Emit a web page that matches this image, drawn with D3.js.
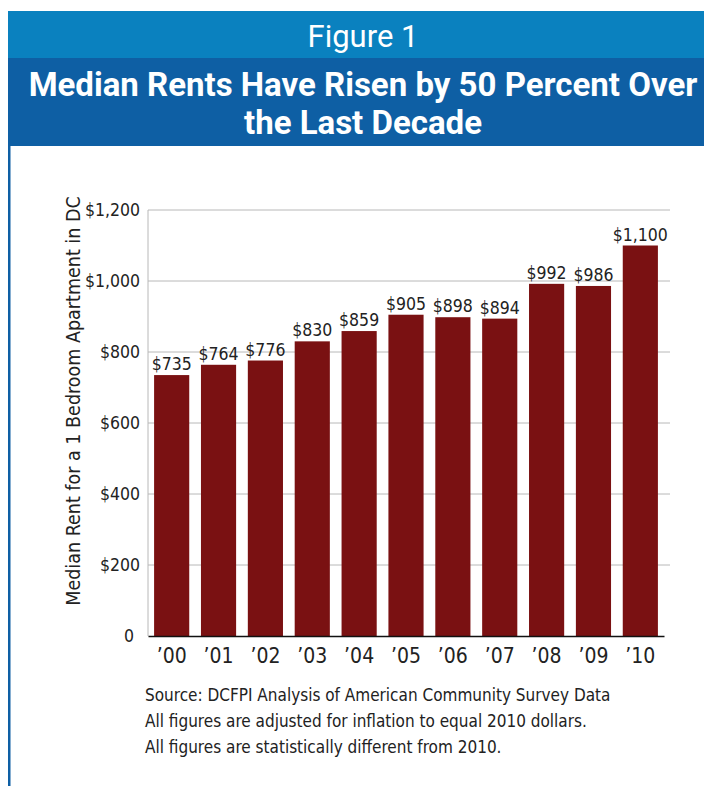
<!DOCTYPE html>
<meta charset="utf-8">
<style>
body { margin: 0; background: #fff; }
svg { display: block; }
.narrow { font-family: "DejaVu Sans Condensed", "Liberation Sans Narrow", sans-serif; }
</style>
<body>
<div id="chart"></div>
<script src="https://cdn.jsdelivr.net/npm/d3@7"></script>
<script>
// data
var years = ["\u201900", "\u201901", "\u201902", "\u201903", "\u201904", "\u201905", "\u201906", "\u201907", "\u201908", "\u201909", "\u201910"];
var rents = [735, 764, 776, 830, 859, 905, 898, 894, 992, 986, 1100];
var yTicks = [0, 200, 400, 600, 800, 1000, 1200];
var notes = [
    "Source: DCFPI Analysis of American Community Survey Data",
    "All figures are adjusted for inflation to equal 2010 dollars.",
    "All figures are statistically different from 2010."
];

var W = 704, H = 786;
var svg = d3.select("#chart").append("svg").attr("width", W).attr("height", H);

// header bands
svg.append("rect").attr("x", 8).attr("y", 11).attr("width", W - 8).attr("height", 47).attr("fill", "#0a81bf");
svg.append("rect").attr("x", 8).attr("y", 58).attr("width", W - 8).attr("height", 88).attr("fill", "#0e5fa4");
svg.append("rect").attr("x", 8).attr("y", 146).attr("width", 2.5).attr("height", H - 146).attr("fill", "#0e5fa4");

svg.append("text").attr("x", 363).attr("y", 47).attr("text-anchor", "middle")
    .attr("fill", "#fff").style("font-family", "Roboto, sans-serif").style("font-size", "31px")
    .text("Figure 1");
svg.append("text").attr("x", 363).attr("y", 96).attr("text-anchor", "middle")
    .attr("fill", "#fff").style("font-family", "Roboto, sans-serif").style("font-size", "33px").style("font-weight", "bold")
    .text("Median Rents Have Risen by 50 Percent Over");
svg.append("text").attr("x", 363).attr("y", 134).attr("text-anchor", "middle")
    .attr("fill", "#fff").style("font-family", "Roboto, sans-serif").style("font-size", "33px").style("font-weight", "bold")
    .text("the Last Decade");

// chart
var pLeft = 148, pRight = 664, pTop = 210, pBottom = 636;
var x = d3.scaleBand().domain(years).range([pLeft, pRight]).paddingInner(0.25).paddingOuter(0.13);
var y = d3.scaleLinear().domain([0, 1200]).range([pBottom, pTop]);

var g = svg.append("g").attr("class", "narrow");

g.selectAll(".grid").data(yTicks.slice(1)).enter().append("line")
    .attr("x1", pLeft).attr("x2", 670)
    .attr("y1", function(d) { return y(d); }).attr("y2", function(d) { return y(d); })
    .attr("stroke", "#b8b8b8").attr("stroke-width", 1);

g.append("line").attr("x1", pLeft).attr("x2", pLeft).attr("y1", pTop).attr("y2", pBottom)
    .attr("stroke", "#b8b8b8");

g.selectAll(".bar").data(rents).enter().append("rect")
    .attr("x", function(d, i) { return x(years[i]); })
    .attr("y", function(d) { return y(d); })
    .attr("width", x.bandwidth())
    .attr("height", function(d) { return pBottom - y(d); })
    .attr("fill", "#7a1112");

g.selectAll(".val").data(rents).enter().append("text")
    .attr("x", function(d, i) { return x(years[i]) + x.bandwidth() / 2; })
    .attr("y", function(d) { return y(d) - 5; })
    .attr("text-anchor", "middle").attr("fill", "#222")
    .style("font-size", "17.5px")
    .text(function(d) { return "$" + d3.format(",")(d); });

var yAxis = d3.axisLeft(y).tickValues(yTicks).tickSize(0).tickPadding(8)
    .tickFormat(function(d) { return d === 0 ? "0" : "$" + d3.format(",")(d); });
var ya = g.append("g").attr("transform", "translate(" + pLeft + ",0)").call(yAxis);
ya.select(".domain").remove();
ya.selectAll("text").style("font-size", "17.5px").attr("fill", "#222")
    .style("font-family", "'DejaVu Sans Condensed', sans-serif");
ya.selectAll(".tick").filter(function(d) { return d === 0; }).select("text").attr("dx", -6);

var xAxis = d3.axisBottom(x).tickSize(0).tickPadding(12);
var xa = g.append("g").attr("transform", "translate(0," + pBottom + ")").call(xAxis);
xa.select(".domain").attr("stroke", "#111").attr("stroke-width", 1.5);
xa.selectAll("text").style("font-size", "21px").attr("fill", "#222")
    .style("font-family", "'DejaVu Sans Condensed', sans-serif");

g.append("text")
    .attr("transform", "translate(80," + ((pTop + pBottom) / 2 - 22) + ") rotate(-90)")
    .attr("text-anchor", "middle").attr("fill", "#222").style("font-size", "19.5px")
    .text("Median Rent for a 1 Bedroom Apartment in DC");

g.selectAll(".note").data(notes).enter().append("text")
    .attr("x", 145).attr("y", function(d, i) { return 701 + i * 26; })
    .attr("fill", "#222").style("font-size", "17px")
    .text(function(d) { return d; });
</script>
</body>
